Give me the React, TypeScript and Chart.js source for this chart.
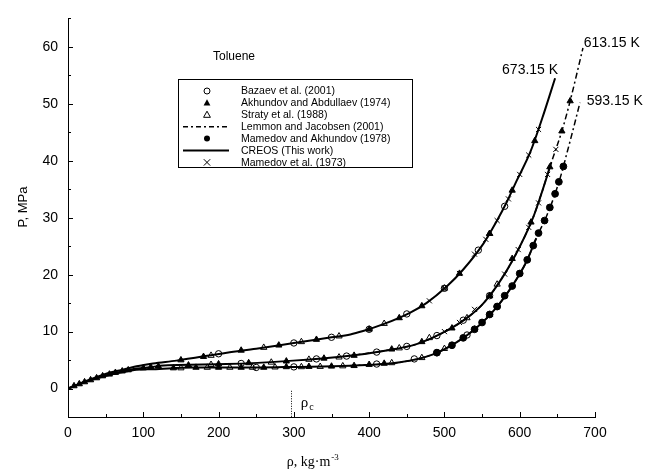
import React, { useEffect, useRef } from 'react';
import { Chart, registerables } from 'chart.js';
Chart.register(...registerables);

// Axis ticks
const xTickValues = [0, 100, 200, 300, 400, 500, 600, 700];
const yTickValues = [0, 10, 20, 30, 40, 50, 60];
const RHO_CRIT = 296;

// CREOS (This work) isotherms
const creos673Rho = [0, 16, 34, 56, 73, 91, 113, 144, 211, 250, 300, 350, 375, 392, 419, 454, 476, 503, 525, 552, 569, 583, 596, 614, 630, 647];
const creos673P = [0, 0.9, 1.8, 2.8, 3.3, 3.9, 4.4, 4.9, 6.3, 7.0, 8.0, 9.0, 9.5, 10.1, 11.3, 13.3, 15.0, 17.9, 20.9, 25.5, 29.3, 32.8, 36.5, 41.5, 47.5, 54.5];
const creos613Rho = [0, 16, 34, 56, 73, 91, 113, 122, 210, 299, 374, 419, 463, 498, 530, 552, 578, 600, 618, 631, 642];
const creos613P = [0, 0.85, 1.7, 2.5, 3.0, 3.5, 3.8, 4.0, 4.3, 4.9, 5.75, 6.6, 7.8, 9.8, 12.4, 15.0, 19.7, 24.9, 30.1, 35.1, 39.7];
const creos593Rho = [0, 16, 34, 56, 73, 91, 113, 166, 255, 300, 374, 441, 485, 516, 543, 569, 591, 609, 622];
const creos593P = [0, 0.8, 1.6, 2.4, 2.9, 3.3, 3.4, 3.7, 3.7, 3.8, 4.0, 4.6, 6.0, 8.1, 10.7, 14.2, 18.2, 22.3, 26.4];

// Lemmon and Jacobsen (2001)
const lemmon613Rho = [374, 419, 463, 498, 530, 552, 578, 600, 618, 631, 642, 656, 667, 684];
const lemmon613P = [5.75, 6.6, 7.8, 9.8, 12.4, 15.0, 19.7, 24.9, 30.1, 35.1, 39.7, 45.2, 50.5, 59.8];
const lemmon593Rho = [374, 441, 485, 516, 543, 569, 591, 609, 622, 636, 647, 656, 663, 670, 680];
const lemmon593P = [4.0, 4.6, 6.0, 8.1, 10.7, 14.2, 18.2, 22.3, 26.4, 30.4, 34.2, 38.0, 41.5, 45.0, 50.2];

// Bazaev et al. (2001)
const bazaevRho = [200, 300, 350, 400, 450, 500, 545, 580, 230, 330, 370, 410, 450, 490, 525, 560, 250, 300, 410, 460, 490, 530, 570];
const bazaevP = [6.1, 8.0, 9.0, 10.4, 13.1, 17.6, 24.3, 32.0, 4.4, 5.2, 5.7, 6.4, 7.4, 9.3, 12.0, 16.3, 3.7, 3.8, 4.3, 5.2, 6.3, 9.4, 14.4];

// Akhundov and Abdullaev (1974)
const akhundovRho = [8, 15, 22, 30, 38, 46, 55, 63, 72, 80, 100, 110, 120,
  150, 180, 230, 280, 330, 400, 440, 470, 520, 560, 590, 620,
  160, 200, 240, 290, 340, 380, 430, 470, 510, 560, 590, 615, 640, 656, 667,
  140, 170, 200, 230, 260, 290, 320, 350, 380, 400, 420];
const akhundovP = [0.45, 0.8, 1.15, 1.5, 1.85, 2.2, 2.5, 2.8, 3.05, 3.25, 3.6, 3.75, 3.9,
  5.0, 5.6, 6.7, 7.6, 8.6, 10.4, 12.4, 14.5, 20.2, 27.2, 34.8, 43.5,
  4.1, 4.3, 4.5, 4.8, 5.3, 5.8, 6.9, 8.2, 10.6, 16.3, 22.8, 29.2, 38.9, 45.2, 50.5,
  3.6, 3.7, 3.7, 3.7, 3.7, 3.8, 3.85, 3.9, 4.0, 4.2, 4.4];

// Straty et al. (1988)
const stratyRho = [190, 260, 310, 360, 420, 500, 560, 190, 270, 320, 360, 440, 480, 530, 570,
  150, 185, 215, 245, 275, 310, 335, 365, 430, 470, 500, 540, 560];
const stratyP = [5.8, 7.2, 8.2, 9.2, 11.4, 17.6, 27.2, 4.2, 4.6, 5.1, 5.5, 7.1, 8.9, 12.4, 18.3,
  3.6, 3.7, 3.7, 3.7, 3.75, 3.8, 3.85, 3.95, 4.5, 5.4, 7.0, 10.4, 13.0];

// Mamedov and Akhundov (1978)
const mamedovAkhRho = [490, 510, 525, 540, 550, 560, 570, 580, 590, 600, 610, 618, 625, 633, 640, 647, 652, 658];
const mamedovAkhP = [6.3, 7.6, 8.9, 10.4, 11.6, 13.0, 14.4, 16.3, 18.0, 20.2, 22.6, 25.1, 27.3, 29.5, 31.8, 34.2, 36.3, 39.0];

// Mamedov et al. (1973)
const mamedov73Rho = [480, 500, 520, 540, 555, 570, 585, 600, 612, 625, 500, 520, 540, 560, 580, 598, 612, 625, 637, 648];
const mamedov73P = [15.4, 17.6, 20.2, 23.6, 26.2, 29.5, 33.3, 37.6, 41.0, 45.5, 10.0, 11.6, 13.9, 16.3, 20.1, 24.4, 28.3, 32.6, 37.6, 42.0];

const legendLabels = [
  'Bazaev et al. (2001)',
  'Akhundov and Abdullaev (1974)',
  'Straty et al. (1988)',
  'Lemmon and Jacobsen (2001)',
  'Mamedov and Akhundov (1978)',
  'CREOS (This work)',
  'Mamedov et al. (1973)',
];

const isoLabels = ['673.15 K', '613.15 K', '593.15 K'];

const SANS = '"Liberation Sans", Arial, sans-serif';
const SERIF = '"Liberation Serif", "Times New Roman", serif';

const pts = (xs: number[], ys: number[]) => xs.map((x, i) => ({ x, y: ys[i] }));

const lineDs = (xs: number[], ys: number[], dash: number[], width: number) => ({
  type: 'line' as const,
  data: pts(xs, ys),
  showLine: true,
  borderColor: '#000',
  borderWidth: width,
  borderDash: dash,
  pointRadius: 0,
  fill: false,
  cubicInterpolationMode: 'monotone' as const,
  order: 2,
});

const markerDs = (xs: number[], ys: number[], style: string, filled: boolean, r: number) => ({
  type: 'scatter' as const,
  data: pts(xs, ys),
  showLine: false,
  pointStyle: style,
  pointRadius: r,
  borderColor: '#000',
  backgroundColor: filled ? '#000' : 'rgba(0,0,0,0)',
  pointBorderWidth: 1,
  order: 1,
});

function drawSymbol(ctx: CanvasRenderingContext2D, kind: string, cx: number, cy: number) {
  ctx.save();
  ctx.strokeStyle = '#000';
  ctx.fillStyle = '#000';
  ctx.lineWidth = 1;
  if (kind === 'circleOpen' || kind === 'circleFilled') {
    ctx.beginPath();
    ctx.arc(cx, cy, 3, 0, Math.PI * 2);
    if (kind === 'circleFilled') ctx.fill(); else ctx.stroke();
  } else if (kind === 'triFilled' || kind === 'triOpen') {
    const r = 3.6;
    ctx.beginPath();
    ctx.moveTo(cx, cy - r);
    ctx.lineTo(cx + r * 0.95, cy + r * 0.7);
    ctx.lineTo(cx - r * 0.95, cy + r * 0.7);
    ctx.closePath();
    if (kind === 'triFilled') ctx.fill(); else ctx.stroke();
  } else if (kind === 'cross') {
    const r = 3.2;
    ctx.beginPath();
    ctx.moveTo(cx - r, cy - r); ctx.lineTo(cx + r, cy + r);
    ctx.moveTo(cx + r, cy - r); ctx.lineTo(cx - r, cy + r);
    ctx.stroke();
  } else if (kind === 'dashdot') {
    ctx.lineWidth = 1.5;
    ctx.setLineDash([5, 3, 2, 3]);
    ctx.beginPath(); ctx.moveTo(183, cy); ctx.lineTo(229, cy); ctx.stroke();
  } else if (kind === 'solid') {
    ctx.lineWidth = 2;
    ctx.beginPath(); ctx.moveTo(183, cy); ctx.lineTo(229, cy); ctx.stroke();
  }
  ctx.restore();
}

const decorPlugin = {
  id: 'decor',
  afterDraw(chart: any) {
    const ctx: CanvasRenderingContext2D = chart.ctx;
    const xs = chart.scales.x;
    const ys = chart.scales.y;
    const area = chart.chartArea;
    ctx.save();
    ctx.strokeStyle = '#000';
    ctx.lineWidth = 1;
    // inward ticks
    for (let v = 0; v <= 700; v += 50) {
      const px = Math.round(xs.getPixelForValue(v)) + 0.5;
      const len = v % 100 === 0 ? 5 : 3;
      ctx.beginPath(); ctx.moveTo(px, area.bottom); ctx.lineTo(px, area.bottom - len); ctx.stroke();
    }
    for (let v = -5; v <= 65; v += 5) {
      const py = Math.round(ys.getPixelForValue(v)) + 0.5;
      const len = v % 10 === 0 ? 5 : 3;
      ctx.beginPath(); ctx.moveTo(area.left, py); ctx.lineTo(area.left + len, py); ctx.stroke();
    }
    // critical density marker
    const rx = Math.round(xs.getPixelForValue(RHO_CRIT)) + 0.5;
    ctx.setLineDash([1, 1.5]);
    ctx.beginPath(); ctx.moveTo(rx, ys.getPixelForValue(-0.4)); ctx.lineTo(rx, area.bottom); ctx.stroke();
    ctx.setLineDash([]);
    ctx.fillStyle = '#000';
    ctx.textBaseline = 'alphabetic';
    ctx.textAlign = 'left';
    ctx.font = `15px ${SERIF}`;
    const lx = xs.getPixelForValue(RHO_CRIT + 13);
    const ly = ys.getPixelForValue(-3.3);
    ctx.fillText('ρ', lx, ly);
    ctx.font = `10px ${SERIF}`;
    ctx.fillText('c', lx + 8.5, ly + 3);

    // isotherm labels
    ctx.font = `14px ${SANS}`;
    ctx.textBaseline = 'middle';
    ctx.textAlign = 'right';
    ctx.fillText(isoLabels[0], xs.getPixelForValue(651), ys.getPixelForValue(55.9));
    ctx.textAlign = 'left';
    ctx.fillText(isoLabels[1], xs.getPixelForValue(685), ys.getPixelForValue(60.7));
    ctx.fillText(isoLabels[2], xs.getPixelForValue(689), ys.getPixelForValue(50.4));

    // title
    ctx.textAlign = 'center';
    ctx.font = `12px ${SANS}`;
    ctx.fillText('Toluene', 234, 57);

    // axis titles
    ctx.font = `14px ${SERIF}`;
    ctx.textAlign = 'left';
    ctx.textBaseline = 'alphabetic';
    const xt = 'ρ, kg·m';
    const w = ctx.measureText(xt).width;
    const sx = 313 - (w + 9) / 2;
    ctx.fillText(xt, sx, 466);
    ctx.font = `9px ${SERIF}`;
    ctx.fillText('-3', sx + w + 1, 460);

    ctx.save();
    ctx.translate(23, 207);
    ctx.rotate(-Math.PI / 2);
    ctx.font = `13px ${SANS}`;
    ctx.textAlign = 'center';
    ctx.textBaseline = 'middle';
    ctx.fillText('P, MPa', 0, 0);
    ctx.restore();

    // legend
    const bx = 178.5, by = 79.5, bw = 234, bh = 88;
    ctx.strokeStyle = '#000';
    ctx.lineWidth = 1;
    ctx.strokeRect(bx, by, bw, bh);
    const kinds = ['circleOpen', 'triFilled', 'triOpen', 'dashdot', 'circleFilled', 'solid', 'cross'];
    ctx.font = `10.5px ${SANS}`;
    ctx.textAlign = 'left';
    ctx.textBaseline = 'middle';
    for (let i = 0; i < legendLabels.length; i++) {
      const cy = 91 + i * 11.9;
      drawSymbol(ctx, kinds[i], 207, cy);
      ctx.fillStyle = '#000';
      ctx.fillText(legendLabels[i], 241, cy + 0.5);
    }
    ctx.restore();
  },
};

export default function App() {
  const ref = useRef<HTMLCanvasElement | null>(null);
  useEffect(() => {
    if (!ref.current) return;
    const chart = new Chart(ref.current, {
      type: 'scatter',
      data: {
        datasets: [
          lineDs(creos673Rho, creos673P, [], 2),
          lineDs(creos613Rho, creos613P, [], 2),
          lineDs(creos593Rho, creos593P, [], 2),
          lineDs(lemmon613Rho, lemmon613P, [6, 3, 2, 3], 1.5),
          lineDs(lemmon593Rho, lemmon593P, [6, 3, 2, 3], 1.5),
          markerDs(bazaevRho, bazaevP, 'circle', false, 3.2),
          markerDs(akhundovRho, akhundovP, 'triangle', true, 3.6),
          markerDs(stratyRho, stratyP, 'triangle', false, 3.6),
          markerDs(mamedovAkhRho, mamedovAkhP, 'circle', true, 3.4),
          markerDs(mamedov73Rho, mamedov73P, 'crossRot', false, 3.6),
        ] as any,
      },
      options: {
        animation: false,
        responsive: false,
        maintainAspectRatio: false,
        layout: { padding: { top: 15, right: 52, left: 0, bottom: 0 } },
        plugins: { legend: { display: false }, tooltip: { enabled: false } },
        scales: {
          x: {
            type: 'linear',
            min: 0,
            max: 700,
            afterFit: (s: any) => { s.height = 57; },
            afterBuildTicks: (s: any) => { s.ticks = xTickValues.map((v) => ({ value: v })); },
            grid: { display: true, drawOnChartArea: false, drawTicks: false },
            border: { display: true, color: '#000', width: 1 },
            ticks: { color: '#000', padding: 8, font: { family: SANS, size: 14 }, maxRotation: 0 },
          },
          y: {
            type: 'linear',
            min: -5,
            max: 65,
            afterFit: (s: any) => { s.width = 68; },
            afterBuildTicks: (s: any) => { s.ticks = yTickValues.map((v) => ({ value: v })); },
            grid: { display: true, drawOnChartArea: false, drawTicks: false },
            border: { display: true, color: '#000', width: 1 },
            ticks: { color: '#000', padding: 10, font: { family: SANS, size: 14 } },
          },
        },
      },
      plugins: [decorPlugin],
    });
    return () => chart.destroy();
  }, []);
  return (
    <div style={{ position: 'fixed', left: 0, top: 0, width: 647, height: 474, background: '#fff' }}>
      <canvas ref={ref} width={647} height={474} style={{ width: 647, height: 474, display: 'block' }} />
    </div>
  );
}
